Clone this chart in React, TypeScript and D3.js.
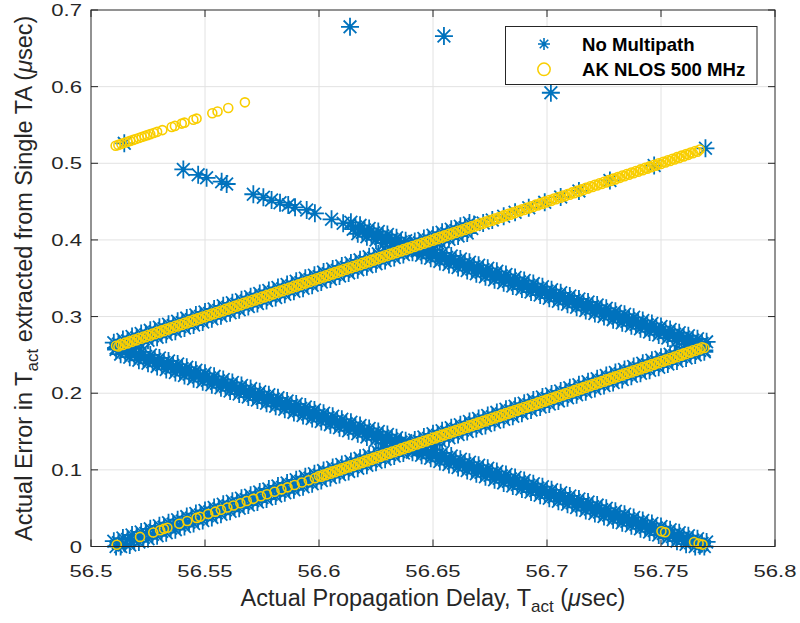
import React from 'react';
import * as d3 from 'd3';

// Axis ticks
const delayTicks = [56.5, 56.55, 56.6, 56.65, 56.7, 56.75, 56.8];
const delayTickLabels = ['56.5', '56.55', '56.6', '56.65', '56.7', '56.75', '56.8'];
const errorTicks = [0, 0.1, 0.2, 0.3, 0.4, 0.5, 0.6, 0.7];
const errorTickLabels = ['0', '0.1', '0.2', '0.3', '0.4', '0.5', '0.6', '0.7'];

const seriesNames = ['No Multipath', 'AK NLOS 500 MHz'];

// Swept actual propagation delay T_act (usec)
const delaySweep = [
  56.510,56.511,56.512,56.513,56.514,56.515,56.516,56.517,56.518,56.519,56.520,56.521,56.522,56.523,56.524,56.525,56.526,56.527,56.528,56.529,
  56.530,56.531,56.532,56.533,56.534,56.535,56.536,56.537,56.538,56.539,56.540,56.541,56.542,56.543,56.544,56.545,56.546,56.547,56.548,56.549,
  56.550,56.551,56.552,56.553,56.554,56.555,56.556,56.557,56.558,56.559,56.560,56.561,56.562,56.563,56.564,56.565,56.566,56.567,56.568,56.569,
  56.570,56.571,56.572,56.573,56.574,56.575,56.576,56.577,56.578,56.579,56.580,56.581,56.582,56.583,56.584,56.585,56.586,56.587,56.588,56.589,
  56.590,56.591,56.592,56.593,56.594,56.595,56.596,56.597,56.598,56.599,56.600,56.601,56.602,56.603,56.604,56.605,56.606,56.607,56.608,56.609,
  56.610,56.611,56.612,56.613,56.614,56.615,56.616,56.617,56.618,56.619,56.620,56.621,56.622,56.623,56.624,56.625,56.626,56.627,56.628,56.629,
  56.630,56.631,56.632,56.633,56.634,56.635,56.636,56.637,56.638,56.639,56.640,56.641,56.642,56.643,56.644,56.645,56.646,56.647,56.648,56.649,
  56.650,56.651,56.652,56.653,56.654,56.655,56.656,56.657,56.658,56.659,56.660,56.661,56.662,56.663,56.664,56.665,56.666,56.667,56.668,56.669,
  56.670,56.671,56.672,56.673,56.674,56.675,56.676,56.677,56.678,56.679,56.680,56.681,56.682,56.683,56.684,56.685,56.686,56.687,56.688,56.689,
  56.690,56.691,56.692,56.693,56.694,56.695,56.696,56.697,56.698,56.699,56.700,56.701,56.702,56.703,56.704,56.705,56.706,56.707,56.708,56.709,
  56.710,56.711,56.712,56.713,56.714,56.715,56.716,56.717,56.718,56.719,56.720,56.721,56.722,56.723,56.724,56.725,56.726,56.727,56.728,56.729,
  56.730,56.731,56.732,56.733,56.734,56.735,56.736,56.737,56.738,56.739,56.740,56.741,56.742,56.743,56.744,56.745,56.746,56.747,56.748,56.749,
  56.750,56.751,56.752,56.753,56.754,56.755,56.756,56.757,56.758,56.759,56.760,56.761,56.762,56.763,56.764,56.765,56.766,56.767,56.768,56.769,
  56.770,
];

// No Multipath errors (usec) along the sweep; each band starts at the given sweep index
const noMpLowRiseFrom = 0;
const noMpLowRiseErr = [
  0.007,0.000,0.005,0.000,0.011,0.004,0.009,0.002,0.015,0.008,0.013,0.006,0.019,0.012,0.017,0.010,
  0.023,0.016,0.021,0.014,0.027,0.020,0.025,0.018,0.031,0.024,0.029,0.022,0.035,0.028,0.033,0.026,
  0.039,0.032,0.037,0.030,0.043,0.036,0.041,0.034,0.047,0.040,0.045,0.038,0.051,0.044,0.049,0.042,
  0.055,0.048,0.053,0.046,0.059,0.052,0.057,0.050,0.063,0.056,0.061,0.054,0.067,0.060,0.065,0.058,
  0.071,0.064,0.069,0.062,0.075,0.068,0.073,0.066,0.079,0.072,0.077,0.070,0.083,0.076,0.081,0.074,
  0.087,0.080,0.085,0.078,0.091,0.084,0.089,0.082,0.095,0.088,0.093,0.086,0.099,0.092,0.097,0.090,
  0.103,0.096,0.101,0.094,0.107,0.100,0.105,0.098,0.111,0.104,0.109,0.102,0.115,0.108,0.113,0.106,
  0.119,0.112,0.117,0.110,0.123,0.116,0.121,0.114,0.127,0.120,0.125,0.118,0.131,0.124,0.129,0.122,
  0.135,0.128,0.133,0.126,0.139,0.132,0.137,0.130,0.143,0.136,0.141,0.134,0.147,0.140,0.145,0.138,
  0.151,0.144,0.149,0.142,0.155,0.148,0.153,0.146,0.159,0.152,0.157,0.150,0.163,0.156,0.161,0.154,
  0.167,0.160,0.165,0.158,0.171,0.164,0.169,0.162,0.175,0.168,0.173,0.166,0.179,0.172,0.177,0.170,
  0.183,0.176,0.181,0.174,0.187,0.180,0.185,0.178,0.191,0.184,0.189,0.182,0.195,0.188,0.193,0.186,
  0.199,0.192,0.197,0.190,0.203,0.196,0.201,0.194,0.207,0.200,0.205,0.198,0.211,0.204,0.209,0.202,
  0.215,0.208,0.213,0.206,0.219,0.212,0.217,0.210,0.223,0.216,0.221,0.214,0.227,0.220,0.225,0.218,
  0.231,0.224,0.229,0.222,0.235,0.228,0.233,0.226,0.239,0.232,0.237,0.230,0.243,0.236,0.241,0.234,
  0.247,0.240,0.245,0.238,0.251,0.244,0.249,0.242,0.255,0.248,0.253,0.246,0.259,0.252,0.257,0.250,
  0.263,0.256,0.261,0.254,
];

const noMpLowFallFrom = 0;
const noMpLowFallErr = [
  0.266,0.257,0.260,0.251,0.262,0.253,0.256,0.247,0.258,0.249,0.252,0.243,0.254,0.245,0.248,0.239,
  0.250,0.241,0.244,0.235,0.246,0.237,0.240,0.231,0.242,0.233,0.236,0.227,0.238,0.229,0.232,0.223,
  0.234,0.225,0.228,0.219,0.230,0.221,0.224,0.215,0.226,0.217,0.220,0.211,0.222,0.213,0.216,0.207,
  0.218,0.209,0.212,0.203,0.214,0.205,0.208,0.199,0.210,0.201,0.204,0.195,0.206,0.197,0.200,0.191,
  0.202,0.193,0.196,0.187,0.198,0.189,0.192,0.183,0.194,0.185,0.188,0.179,0.190,0.181,0.184,0.175,
  0.186,0.177,0.180,0.171,0.182,0.173,0.176,0.167,0.178,0.169,0.172,0.163,0.174,0.165,0.168,0.159,
  0.170,0.161,0.164,0.155,0.166,0.157,0.160,0.151,0.162,0.153,0.156,0.147,0.158,0.149,0.152,0.143,
  0.154,0.145,0.148,0.139,0.150,0.141,0.144,0.135,0.146,0.137,0.140,0.131,0.142,0.133,0.136,0.127,
  0.138,0.129,0.132,0.123,0.134,0.125,0.128,0.119,0.130,0.121,0.124,0.115,0.126,0.117,0.120,0.111,
  0.122,0.113,0.116,0.107,0.118,0.109,0.112,0.103,0.114,0.105,0.108,0.099,0.110,0.101,0.104,0.095,
  0.106,0.097,0.100,0.091,0.102,0.093,0.096,0.087,0.098,0.089,0.092,0.083,0.094,0.085,0.088,0.079,
  0.090,0.081,0.084,0.075,0.086,0.077,0.080,0.071,0.082,0.073,0.076,0.067,0.078,0.069,0.072,0.063,
  0.074,0.065,0.068,0.059,0.070,0.061,0.064,0.055,0.066,0.057,0.060,0.051,0.062,0.053,0.056,0.047,
  0.058,0.049,0.052,0.043,0.054,0.045,0.048,0.039,0.050,0.041,0.044,0.035,0.046,0.037,0.040,0.031,
  0.042,0.033,0.036,0.027,0.038,0.029,0.032,0.023,0.034,0.025,0.028,0.019,0.030,0.021,0.024,0.015,
  0.026,0.017,0.020,0.011,0.022,0.013,0.016,0.007,0.018,0.009,0.012,0.003,0.014,0.005,0.008,0.000,
  0.010,0.001,0.004,0.000,0.006,
];

const noMpHighRiseFrom = 0;
const noMpHighRiseErr = [
  0.266,0.259,0.264,0.257,0.270,0.263,0.268,0.261,0.274,0.267,0.272,0.265,0.278,0.271,0.276,0.269,
  0.282,0.275,0.280,0.273,0.286,0.279,0.284,0.277,0.290,0.283,0.288,0.281,0.294,0.287,0.292,0.285,
  0.298,0.291,0.296,0.289,0.302,0.295,0.300,0.293,0.306,0.299,0.304,0.297,0.310,0.303,0.308,0.301,
  0.314,0.307,0.312,0.305,0.318,0.311,0.316,0.309,0.322,0.315,0.320,0.313,0.326,0.319,0.324,0.317,
  0.330,0.323,0.328,0.321,0.334,0.327,0.332,0.325,0.338,0.331,0.336,0.329,0.342,0.335,0.340,0.333,
  0.346,0.339,0.344,0.337,0.350,0.343,0.348,0.341,0.354,0.347,0.352,0.345,0.358,0.351,0.356,0.349,
  0.362,0.355,0.360,0.353,0.366,0.359,0.364,0.357,0.370,0.363,0.368,0.361,0.374,0.367,0.372,0.365,
  0.378,0.371,0.376,0.369,0.382,0.375,0.380,0.373,0.386,0.379,0.384,0.377,0.390,0.383,0.388,0.381,
  0.394,0.387,0.392,0.385,0.398,0.391,0.396,0.389,0.402,0.395,0.400,0.393,0.406,0.399,0.404,0.397,
  0.410,0.403,0.408,0.401,0.414,0.407,0.412,0.405,0.418,0.411,0.416,0.409,0.422,0.415,0.420,
];

const noMpHighFallFrom = 104;
const noMpHighFallErr = [
  0.423,0.414,0.417,0.408,0.419,0.410,0.413,0.404,0.415,0.406,0.409,0.400,0.411,0.402,0.405,0.396,
  0.407,0.398,0.401,0.392,0.403,0.394,0.397,0.388,0.399,0.390,0.393,0.384,0.395,0.386,0.389,0.380,
  0.391,0.382,0.385,0.376,0.387,0.378,0.381,0.372,0.383,0.374,0.377,0.368,0.379,0.370,0.373,0.364,
  0.375,0.366,0.369,0.360,0.371,0.362,0.365,0.356,0.367,0.358,0.361,0.352,0.363,0.354,0.357,0.348,
  0.359,0.350,0.353,0.344,0.355,0.346,0.349,0.340,0.351,0.342,0.345,0.336,0.347,0.338,0.341,0.332,
  0.343,0.334,0.337,0.328,0.339,0.330,0.333,0.324,0.335,0.326,0.329,0.320,0.331,0.322,0.325,0.316,
  0.327,0.318,0.321,0.312,0.323,0.314,0.317,0.308,0.319,0.310,0.313,0.304,0.315,0.306,0.309,0.300,
  0.311,0.302,0.305,0.296,0.307,0.298,0.301,0.292,0.303,0.294,0.297,0.288,0.299,0.290,0.293,0.284,
  0.295,0.286,0.289,0.280,0.291,0.282,0.285,0.276,0.287,0.278,0.281,0.272,0.283,0.274,0.277,0.268,
  0.279,0.270,0.273,0.264,0.275,0.266,0.269,0.260,0.271,0.262,0.265,0.256,0.267,
];

// Isolated No Multipath points: [T_act, error]
const noMpHighRiseSparse: [number, number][] = [
  [56.672,0.422],[56.676,0.426],[56.681,0.431],[56.686,0.436],[56.692,0.442],[56.699,0.449],[56.706,0.456],[56.714,0.464],
  [56.7276,0.4776],[56.747,0.497],[56.7695,0.5195],
];
const noMpHighFallSparse: [number, number][] = [
  [56.5146,0.526],[56.5405,0.492],[56.5470,0.485],[56.5507,0.481],[56.5573,0.476],[56.5595,0.473],[56.5712,0.4596],[56.5756,0.4556],
  [56.5792,0.452],[56.5829,0.4486],[56.5865,0.4456],[56.5895,0.4426],[56.5946,0.4391],[56.5982,0.4347],[56.6055,0.4269],[56.6106,0.4217],
];
const noMpOutliers: [number, number][] = [[56.6136,0.678],[56.6548,0.666],[56.7017,0.592]];

// AK NLOS 500 MHz errors (usec) along the sweep
const akHighRiseFrom = 1;
const akHighRiseErr = [
  0.262,0.261,0.264,0.263,0.266,0.265,0.268,0.267,0.270,0.269,0.272,0.271,0.274,0.273,0.276,0.275,0.278,0.277,0.280,0.279,
  0.282,0.281,0.284,0.283,0.286,0.285,0.288,0.287,0.290,0.289,0.292,0.291,0.294,0.293,0.296,0.295,0.298,0.297,0.300,0.299,
  0.302,0.301,0.304,0.303,0.306,0.305,0.308,0.307,0.310,0.309,0.312,0.311,0.314,0.313,0.316,0.315,0.318,0.317,0.320,0.319,
  0.322,0.321,0.324,0.323,0.326,0.325,0.328,0.327,0.330,0.329,0.332,0.331,0.334,0.333,0.336,0.335,0.338,0.337,0.340,0.339,
  0.342,0.341,0.344,0.343,0.346,0.345,0.348,0.347,0.350,0.349,0.352,0.351,0.354,0.353,0.356,0.355,0.358,0.357,0.360,0.359,
  0.362,0.361,0.364,0.363,0.366,0.365,0.368,0.367,0.370,0.369,0.372,0.371,0.374,0.373,0.376,0.375,0.378,0.377,0.380,0.379,
  0.382,0.381,0.384,0.383,0.386,0.385,0.388,0.387,0.390,0.389,0.392,0.391,0.394,0.393,0.396,0.395,0.398,0.397,0.400,0.399,
  0.402,0.401,0.404,0.403,0.406,0.405,0.408,0.407,0.410,0.409,0.412,0.411,0.414,0.413,0.416,0.415,0.418,0.417,0.420,0.419,
  0.422,0.421,0.424,0.423,0.426,0.425,0.428,0.427,0.430,0.429,0.432,0.431,0.434,0.433,0.436,0.435,0.438,0.437,0.440,0.439,
  0.442,0.441,0.444,0.443,0.446,0.445,0.448,0.447,0.450,0.449,0.452,0.451,0.454,0.453,0.456,0.455,0.458,0.457,0.460,0.459,
  0.462,0.461,0.464,0.463,0.466,0.465,0.468,0.467,0.470,0.469,0.472,0.471,0.474,0.473,0.476,0.475,0.478,0.477,0.480,0.479,
  0.482,0.481,0.484,0.483,0.486,0.485,0.488,0.487,0.490,0.489,0.492,0.491,0.494,0.493,0.496,0.495,0.498,0.497,0.500,0.499,
  0.502,0.501,0.504,0.503,0.506,0.505,0.508,0.507,0.510,0.509,0.512,0.511,0.514,0.513,0.516,0.515,0.518,
];

const akLowRiseFrom = 90;
const akLowRiseErr = [
  0.092,0.091,0.094,0.093,0.096,0.095,0.098,0.097,0.100,0.099,0.102,0.101,0.104,0.103,0.106,0.105,0.108,0.107,0.110,0.109,
  0.112,0.111,0.114,0.113,0.116,0.115,0.118,0.117,0.120,0.119,0.122,0.121,0.124,0.123,0.126,0.125,0.128,0.127,0.130,0.129,
  0.132,0.131,0.134,0.133,0.136,0.135,0.138,0.137,0.140,0.139,0.142,0.141,0.144,0.143,0.146,0.145,0.148,0.147,0.150,0.149,
  0.152,0.151,0.154,0.153,0.156,0.155,0.158,0.157,0.160,0.159,0.162,0.161,0.164,0.163,0.166,0.165,0.168,0.167,0.170,0.169,
  0.172,0.171,0.174,0.173,0.176,0.175,0.178,0.177,0.180,0.179,0.182,0.181,0.184,0.183,0.186,0.185,0.188,0.187,0.190,0.189,
  0.192,0.191,0.194,0.193,0.196,0.195,0.198,0.197,0.200,0.199,0.202,0.201,0.204,0.203,0.206,0.205,0.208,0.207,0.210,0.209,
  0.212,0.211,0.214,0.213,0.216,0.215,0.218,0.217,0.220,0.219,0.222,0.221,0.224,0.223,0.226,0.225,0.228,0.227,0.230,0.229,
  0.232,0.231,0.234,0.233,0.236,0.235,0.238,0.237,0.240,0.239,0.242,0.241,0.244,0.243,0.246,0.245,0.248,0.247,0.250,0.249,
  0.252,0.251,0.254,0.253,0.256,0.255,0.258,0.257,0.260,0.259,
];

// Isolated AK NLOS points: [T_act, error]
const akLowRiseSparse: [number, number][] = [
  [56.5113,0.0023],[56.5215,0.0125],[56.5273,0.0183],[56.5303,0.0213],[56.5320,0.0230],[56.5335,0.0245],[56.5387,0.0297],[56.5422,0.0332],
  [56.5463,0.0373],[56.5478,0.0388],[56.5514,0.0424],[56.5545,0.0455],[56.5570,0.0480],[56.5598,0.0508],[56.5625,0.0535],[56.5655,0.0565],
  [56.5683,0.0593],[56.5712,0.0622],[56.5745,0.0655],[56.5772,0.0682],[56.5805,0.0715],[56.5835,0.0745],[56.5862,0.0772],[56.5893,0.0803],
  [56.5925,0.0835],[56.5955,0.0865],[56.5982,0.0892],
];
const akUpperCluster: [number, number][] = [
  [56.5108,0.5228],[56.5120,0.5240],[56.5133,0.5253],[56.5147,0.5267],[56.5160,0.5280],[56.5172,0.5292],[56.5185,0.5305],[56.5197,0.5317],
  [56.5210,0.5330],[56.5222,0.5342],[56.5235,0.5355],[56.5247,0.5367],[56.5260,0.5380],[56.5275,0.5395],[56.5290,0.5410],[56.5313,0.5433],
  [56.5354,0.5474],[56.5368,0.5488],[56.5398,0.5518],[56.5410,0.5530],[56.5449,0.5569],[56.5463,0.5583],[56.5532,0.5652],[56.5555,0.5675],
  [56.5602,0.5722],[56.5675,0.5795],
];
const akLowFall: [number, number][] = [
  [56.7502,0.0198],[56.7518,0.0185],[56.7645,0.0058],[56.7665,0.0040],[56.7682,0.0025],
];

// Pair each error with its swept delay
const onSweep = (errs: number[], from: number): [number, number][] =>
  errs.map((e, i) => [delaySweep[from + i], e]);

const noMultipath: [number, number][] = [
  ...onSweep(noMpLowRiseErr, noMpLowRiseFrom),
  ...onSweep(noMpLowFallErr, noMpLowFallFrom),
  ...onSweep(noMpHighRiseErr, noMpHighRiseFrom),
  ...onSweep(noMpHighFallErr, noMpHighFallFrom),
  ...noMpHighRiseSparse, ...noMpHighFallSparse, ...noMpOutliers,
];
const akNlos: [number, number][] = [
  ...onSweep(akHighRiseErr, akHighRiseFrom),
  ...onSweep(akLowRiseErr, akLowRiseFrom),
  ...akLowRiseSparse, ...akUpperCluster, ...akLowFall,
];

const BLUE = '#0072BD';
const YELLOW = '#F9CE00';
const INK = '#262626';
const GRID = '#e2e2e2';
const FONT = "'Liberation Sans', Arial, Helvetica, sans-serif";

// 8-armed asterisk centred on (cx, cy)
function asterisk(cx: number, cy: number, r: number): string {
  const d = r * 0.7071;
  return `M${cx - r},${cy}H${cx + r}M${cx},${cy - r}V${cy + r}` +
    `M${cx - d},${cy - d}L${cx + d},${cy + d}M${cx - d},${cy + d}L${cx + d},${cy - d}`;
}

export default function App() {
  const left = 91, right = 775, top = 10, bottom = 546.5;
  const x = d3.scaleLinear().domain([56.5, 56.8]).range([left, right]);
  const y = d3.scaleLinear().domain([0, 0.7]).range([bottom, top]);
  const tickLen = 7;

  const starD = noMultipath.map(([t, e]) => asterisk(x(t), y(e), 9)).join('');

  return (
    <svg width={800} height={623} style={{ position: 'absolute', left: 0, top: 0, background: '#fff' }}
      fontFamily={FONT}>
      <rect x={0} y={0} width={800} height={623} fill="#fff" />
      {/* grid */}
      <g stroke={GRID} strokeWidth={1}>
        {delayTicks.slice(1, -1).map((t) => (
          <line key={'gx' + t} x1={x(t)} x2={x(t)} y1={top} y2={bottom} />
        ))}
        {errorTicks.slice(1, -1).map((t) => (
          <line key={'gy' + t} x1={left} x2={right} y1={y(t)} y2={y(t)} />
        ))}
      </g>

      {/* data */}
      <path d={starD} fill="none" stroke={BLUE} strokeWidth={1.8} />
      <g fill="none" stroke={YELLOW} strokeWidth={1.6}>
        {akNlos.map(([t, e], i) => (
          <circle key={i} cx={x(t)} cy={y(e)} r={4.5} />
        ))}
      </g>

      {/* axes box and ticks */}
      <g stroke={INK} strokeWidth={1} fill="none">
        <rect x={left} y={top} width={right - left} height={bottom - top} />
        {delayTicks.map((t) => (
          <g key={'tx' + t}>
            <line x1={x(t)} x2={x(t)} y1={bottom} y2={bottom - tickLen} />
            <line x1={x(t)} x2={x(t)} y1={top} y2={top + tickLen} />
          </g>
        ))}
        {errorTicks.map((t) => (
          <g key={'ty' + t}>
            <line x1={left} x2={left + tickLen} y1={y(t)} y2={y(t)} />
            <line x1={right} x2={right - tickLen} y1={y(t)} y2={y(t)} />
          </g>
        ))}
      </g>

      {/* tick labels */}
      <g fill={INK} fontSize={17}>
        {delayTicks.map((t, i) => (
          <g key={'lx' + t} transform={`translate(${x(t)},577) scale(1.3,1)`}>
            <text textAnchor="middle">{delayTickLabels[i]}</text>
          </g>
        ))}
        {errorTicks.map((t, i) => (
          <g key={'ly' + t} transform={`translate(82,${y(t) + 6}) scale(1.3,1)`}>
            <text textAnchor="end">{errorTickLabels[i]}</text>
          </g>
        ))}
      </g>

      {/* axis titles */}
      <text x={(left + right) / 2} y={606} textAnchor="middle" fontSize={23.5} fill={INK}>
        Actual Propagation Delay, T<tspan dy={6} fontSize={17}>act</tspan>
        <tspan dy={-6}> (</tspan><tspan fontStyle="italic">μ</tspan>sec)
      </text>
      <text transform={`translate(32,${(top + bottom) / 2}) rotate(-90)`} textAnchor="middle" fontSize={23.5} fill={INK}>
        Actual Error in T<tspan dy={6} fontSize={17}>act</tspan>
        <tspan dy={-6}> extracted from Single TA (</tspan><tspan fontStyle="italic">μ</tspan>sec)
      </text>

      {/* legend */}
      <g>
        <rect x={505.5} y={26.5} width={251.5} height={58} fill="#fff" stroke={INK} strokeWidth={1} />
        <path d={asterisk(544, 44, 6)} fill="none" stroke={BLUE} strokeWidth={1.6} />
        <circle cx={544} cy={69.3} r={6.2} fill="none" stroke={YELLOW} strokeWidth={1.5} />
        <text x={582} y={50.5} fontSize={18.6} fontWeight="bold" fill="#000">{seriesNames[0]}</text>
        <text x={582} y={76} fontSize={18.6} fontWeight="bold" fill="#000">{seriesNames[1]}</text>
      </g>
    </svg>
  );
}
